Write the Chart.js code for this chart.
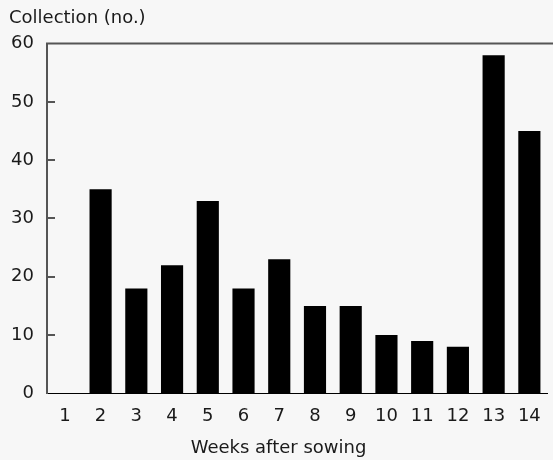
<!DOCTYPE html>
<html>
<head>
<meta charset="utf-8">
<script src="https://cdn.jsdelivr.net/npm/chart.js@4.4.0/dist/chart.umd.min.js"></script>
<style>
  html, body { margin: 0; padding: 0; background: #f7f7f7; }
  #wrap { width: 553px; height: 460px; position: relative; }
</style>
</head>
<body>
<div id="wrap"><canvas id="chart"></canvas></div>
<script>
// data
const weeks = ['1', '2', '3', '4', '5', '6', '7', '8', '9', '10', '11', '12', '13', '14'];
const collection = [0, 35, 18, 22, 33, 18, 23, 15, 15, 10, 9, 8, 58, 45];
const yTicks = [0, 10, 20, 30, 40, 50, 60];

const FONT = "'DejaVu Sans', sans-serif";
const TEXT = '#1a1a1a';
const AXIS = '#555555';

// frame: top line runs to the canvas edge, small inward ticks on the y axis
const framePlugin = {
    id: 'frame',
    afterDraw(chart) {
        const { ctx, chartArea } = chart;
        const y = chart.scales.y;
        ctx.save();
        ctx.strokeStyle = AXIS;
        ctx.lineWidth = 2;
        ctx.beginPath();
        ctx.moveTo(chartArea.left - 1, chartArea.top);
        ctx.lineTo(chart.width, chartArea.top);
        ctx.stroke();
        yTicks.forEach(v => {
            if (v === 0 || v === 60) return;
            const py = Math.round(y.getPixelForValue(v));
            ctx.beginPath();
            ctx.moveTo(chartArea.left, py);
            ctx.lineTo(chartArea.left + 8, py);
            ctx.stroke();
        });
        ctx.restore();
    }
};

new Chart(document.getElementById('chart'), {
    type: 'bar',
    data: {
        labels: weeks,
        datasets: [{
            data: collection,
            backgroundColor: '#000000',
            barPercentage: 0.62,
            categoryPercentage: 1.0
        }]
    },
    options: {
        responsive: true,
        maintainAspectRatio: false,
        animation: false,
        layout: { padding: { left: 9, right: 5, top: 0, bottom: 0 } },
        plugins: {
            legend: { display: false },
            tooltip: { enabled: false },
            title: {
                display: true,
                text: 'Collection (no.)',
                position: 'top',
                align: 'start',
                color: TEXT,
                font: { family: FONT, size: 18, weight: 'normal' },
                padding: { top: 8, bottom: 14 }
            },
            subtitle: {
                display: true,
                text: 'Weeks after sowing',
                position: 'bottom',
                align: 'center',
                color: TEXT,
                font: { family: FONT, size: 18, weight: 'normal' },
                padding: { top: 10, bottom: 1 }
            }
        },
        scales: {
            x: {
                grid: { display: false, drawTicks: false },
                border: { display: true, color: '#000000', width: 1 },
                ticks: {
                    color: TEXT,
                    font: { family: FONT, size: 18 },
                    padding: 12,
                    maxRotation: 0
                },
                afterFit: s => { s.height = 34; }
            },
            y: {
                min: 0,
                max: 60,
                grid: { display: false, drawTicks: false },
                border: { display: true, color: AXIS, width: 2 },
                ticks: {
                    stepSize: 10,
                    color: TEXT,
                    font: { family: FONT, size: 18 },
                    padding: 13
                },
                afterFit: s => { s.width = 38; }
            }
        }
    },
    plugins: [framePlugin]
});
</script>
</body>
</html>
